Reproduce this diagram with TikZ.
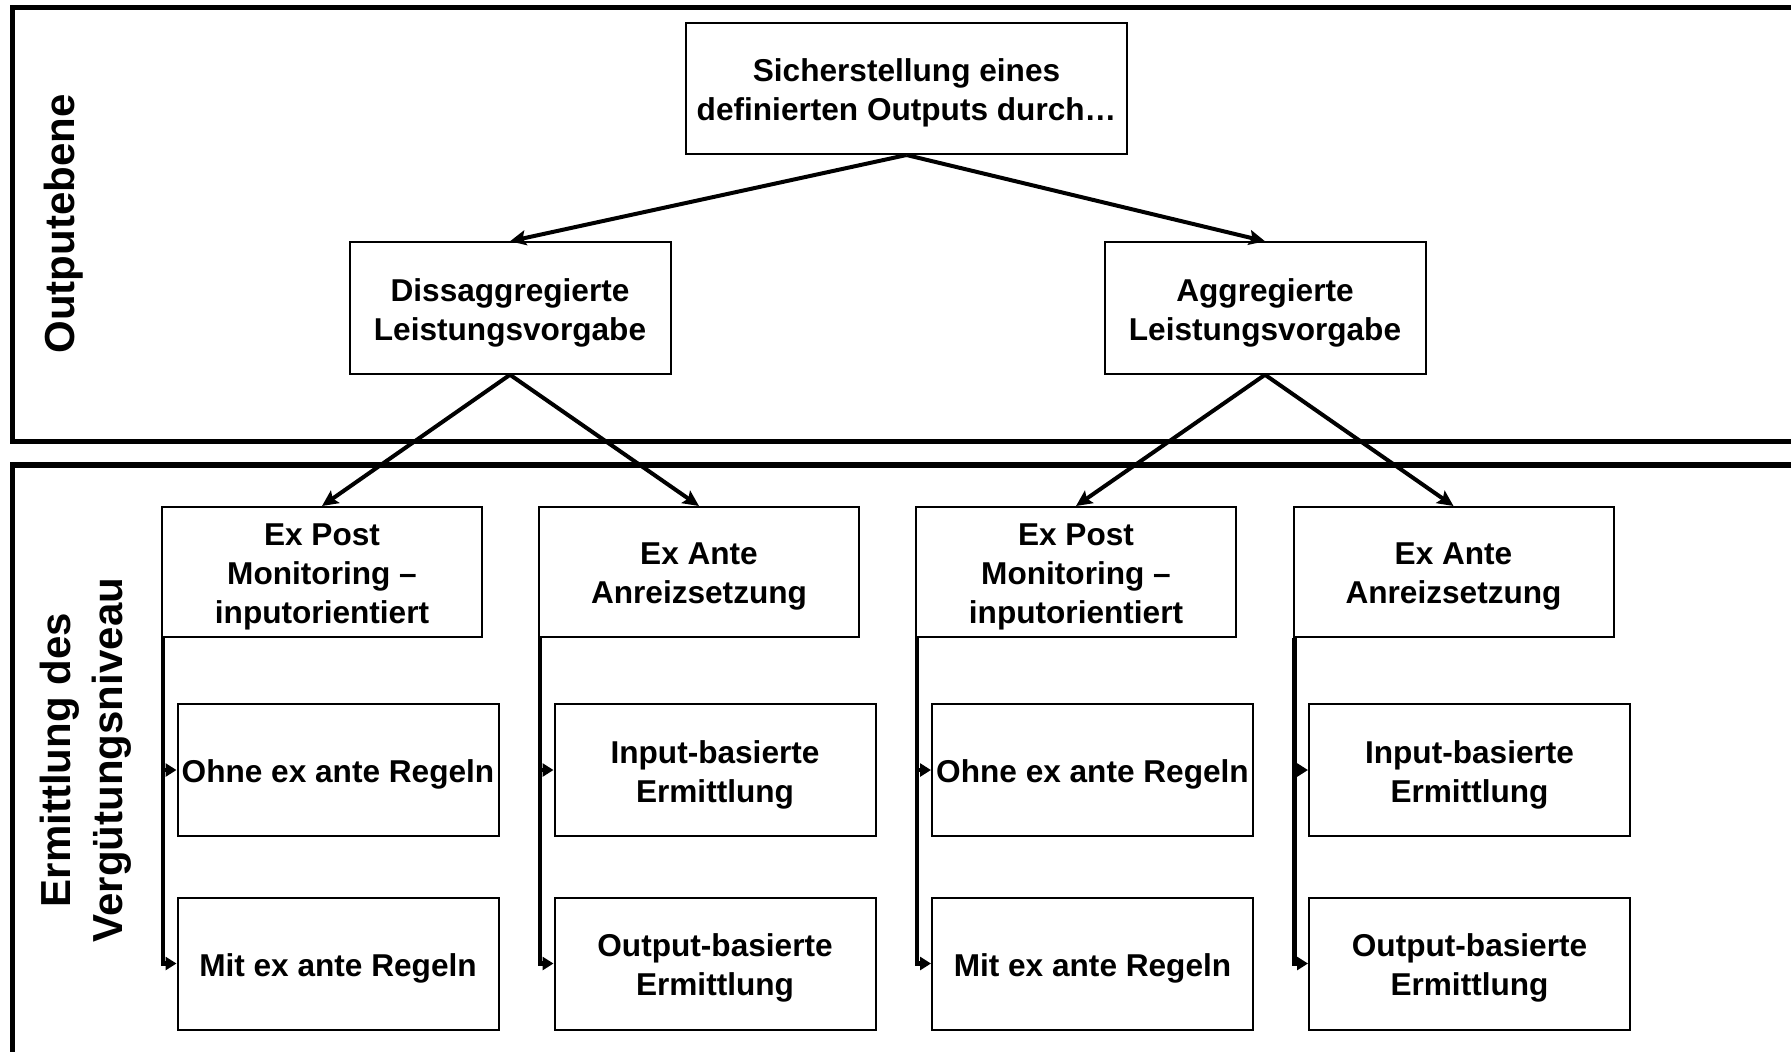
\documentclass[tikz,border=0pt]{standalone}
\usepackage{fontspec}
\setmainfont{Liberation Sans}
\usetikzlibrary{arrows.meta}
\begin{document}
\begin{tikzpicture}[x=0.5pt,y=-0.5pt,
  box/.style={draw=black,line width=1pt,fill=white,inner sep=0pt},
  boxtext/.style={anchor=center,align=center,inner sep=0pt,yshift=-2.3pt,
    font=\fontsize{15.8pt}{19.4pt}\selectfont\bfseries},
  topbox/.style={box,minimum width=220.5pt,minimum height=65.5pt},
  midbox/.style={box,minimum width=160.5pt,minimum height=65.75pt},
  lowbox/.style={box,minimum width=160pt,minimum height=65pt},
  leafbox/.style={box,minimum width=160.5pt,minimum height=66pt},
  frame/.style={draw=black,line width=2.6pt},
  sidelabel/.style={rotate=90,align=center,inner sep=0pt,
    font=\fontsize{21pt}{26pt}\selectfont\bfseries},
  link/.style={line width=2pt,-{Stealth[length=8pt,width=7.5pt,inset=1.5pt]}},
  bracket/.style={line width=2.2pt,-{Triangle[length=5.5pt,width=6.5pt]}}]

\useasboundingbox (0,0) rectangle (1791,1051);
\clip (0,0) rectangle (1791,1051);

% level frames (running past the right and bottom edges)
\draw[frame] (1810,7.5) -- (12.5,7.5) -- (12.5,441.5) -- (1810,441.5);
\draw[frame] (1810,465) -- (12.5,465) -- (12.5,1070);

\node[sidelabel] (lvlA) at (64,224) {Outputebene};
\node[sidelabel] (lvlB) at (86,760) {Ermittlung des\\Vergütungsniveau};

% boxes
\node[topbox,label={[boxtext]center:Sicherstellung eines\\definierten Outputs durch…}] (root) at (906.5,88.5) {};

\node[midbox,label={[boxtext]center:Dissaggregierte\\Leistungsvorgabe}] (dis) at (510,308) {};
\node[midbox,label={[boxtext]center:Aggregierte\\Leistungsvorgabe}] (agg) at (1265,308) {};

\node[lowbox,label={[boxtext]center:Ex Post\\Monitoring –\\inputorientiert}] (postA) at (322,572) {};
\node[lowbox,label={[boxtext]center:Ex Ante\\Anreizsetzung}] (anteA) at (699,572) {};
\node[lowbox,label={[boxtext]center:Ex Post\\Monitoring –\\inputorientiert}] (postB) at (1076,572) {};
\node[lowbox,label={[boxtext]center:Ex Ante\\Anreizsetzung}] (anteB) at (1453.5,572) {};

\node[leafbox,label={[boxtext]center:Ohne ex ante Regeln}] (ohneA) at (338,770) {};
\node[leafbox,label={[boxtext]center:Mit ex ante Regeln}] (mitA) at (338,963.5) {};
\node[leafbox,label={[boxtext]center:Input-basierte\\Ermittlung}] (inA) at (715,770) {};
\node[leafbox,label={[boxtext]center:Output-basierte\\Ermittlung}] (outA) at (715,963.5) {};
\node[leafbox,label={[boxtext]center:Ohne ex ante Regeln}] (ohneB) at (1092.5,770) {};
\node[leafbox,label={[boxtext]center:Mit ex ante Regeln}] (mitB) at (1092.5,963.5) {};
\node[leafbox,label={[boxtext]center:Input-basierte\\Ermittlung}] (inB) at (1469.5,770) {};
\node[leafbox,label={[boxtext]center:Output-basierte\\Ermittlung}] (outB) at (1469.5,963.5) {};

% tree connectors
\draw[link] (root.south) -- (dis.north);
\draw[link] (root.south) -- (agg.north);
\draw[link] (dis.south) -- (postA.north);
\draw[link] (dis.south) -- (anteA.north);
\draw[link] (agg.south) -- (postB.north);
\draw[link] (agg.south) -- (anteB.north);

% side brackets to the leaf boxes
\foreach \p/\c in {postA/ohneA,postA/mitA,anteA/inA,anteA/outA,
                   postB/ohneB,postB/mitB,anteB/inB,anteB/outB}{
  \draw[bracket] ([xshift=1pt]\p.south west) |- (\c.west);
}
\end{tikzpicture}
\end{document}
